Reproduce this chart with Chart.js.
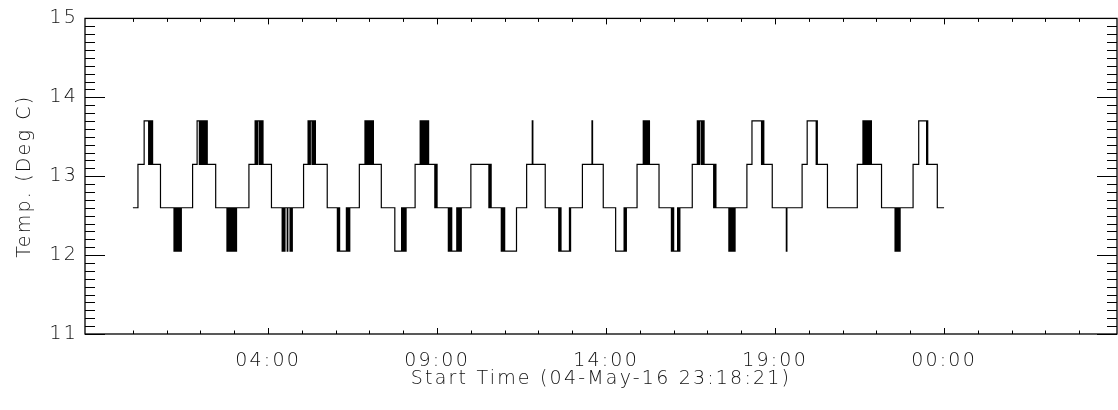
<!DOCTYPE html>
<html>
<head>
<meta charset="utf-8">
<script src="https://cdn.jsdelivr.net/npm/chart.js@4"></script>
<style>
  body { margin: 0; background: #fff; }
  #wrap { width: 1118px; height: 410px; }
</style>
</head>
<body>
<div id="wrap"><canvas id="tempChart"></canvas></div>
<script>
// minutes after 00:00 (05-May) where the reading changes, and the new reading (deg C)
const timeMin = [
  0, 9, 20, 28, 29, 30, 31, 32, 33, 35, 49, 73, 74, 75, 76, 77, 78, 79, 80, 81, 82, 83, 84, 85, 86,
  106, 114, 118, 119, 120, 121, 122, 123, 124, 125, 126, 127, 128, 129, 130, 131, 132, 147, 167, 168, 169, 170, 171, 172, 173, 174, 175, 176, 177, 178, 179, 180, 181, 182, 183, 184,
  206, 217, 219, 220, 221, 222, 225, 226, 228, 229, 231, 246, 265, 266, 267, 268, 269, 270, 274, 275, 279, 280, 281, 283,
  303, 311, 312, 313, 314, 315, 318, 319, 320, 321, 322, 323, 324, 345, 363, 364, 365, 366, 367, 379, 380, 381, 382, 383, 384, 385,
  402, 412, 413, 414, 415, 416, 417, 418, 419, 420, 421, 422, 423, 424, 425, 426, 427, 441, 465, 477, 478, 479, 480, 481, 482, 483, 484, 485,
  501, 510, 511, 512, 513, 514, 515, 516, 517, 518, 519, 520, 521, 522, 523, 524, 525, 536, 537, 538, 539, 540, 560, 561, 562, 563, 564, 565, 566, 575, 576, 578, 579, 581, 582, 583,
  600, 632, 633, 634, 635, 636, 654, 655, 656, 657, 658, 659, 660, 681,
  699, 709, 710, 732, 756, 757, 758, 759, 760, 775, 776, 777,
  798, 815, 816, 835, 857, 872, 873, 874, 875, 876,
  895, 906, 907, 908, 909, 910, 911, 912, 913, 914, 915, 916, 917, 934, 956, 957, 958, 959, 960, 967, 968, 969, 970, 971,
  993, 1002, 1003, 1004, 1005, 1006, 1009, 1010, 1011, 1012, 1014, 1031, 1032, 1033, 1034, 1035, 1058, 1059, 1060, 1061, 1062, 1063, 1064, 1065, 1066, 1067, 1068, 1069,
  1090, 1099, 1116, 1117, 1118, 1119, 1120, 1135, 1160, 1161,
  1188, 1197, 1213, 1214, 1215, 1233,
  1286, 1296, 1297, 1298, 1299, 1300, 1301, 1302, 1303, 1304, 1305, 1306, 1307, 1308, 1309, 1310, 1311, 1329, 1353, 1354, 1355, 1356, 1357, 1358, 1359, 1360, 1361, 1362,
  1385, 1395, 1409, 1410, 1411, 1428, 1440
];
const tempC = [
  12.6, 13.15, 13.7, 13.15, 13.7, 13.15, 13.7, 13.15, 13.7, 13.15, 12.6, 12.05, 12.6, 12.05, 12.6, 12.05, 12.6, 12.05, 12.6, 12.05, 12.6, 12.05, 12.6, 12.05, 12.6,
  13.15, 13.7, 13.15, 13.7, 13.15, 13.7, 13.15, 13.7, 13.15, 13.7, 13.15, 13.7, 13.15, 13.7, 13.15, 13.7, 13.15, 12.6, 12.05, 12.6, 12.05, 12.6, 12.05, 12.6, 12.05, 12.6, 12.05, 12.6, 12.05, 12.6, 12.05, 12.6, 12.05, 12.6, 12.05, 12.6,
  13.15, 13.7, 13.15, 13.7, 13.15, 13.7, 13.15, 13.7, 13.15, 13.7, 13.15, 12.6, 12.05, 12.6, 12.05, 12.6, 12.05, 12.6, 12.05, 12.6, 12.05, 12.6, 12.05, 12.6,
  13.15, 13.7, 13.15, 13.7, 13.15, 13.7, 13.15, 13.7, 13.15, 13.7, 13.15, 13.7, 13.15, 12.6, 12.05, 12.6, 12.05, 12.6, 12.05, 12.6, 12.05, 12.6, 12.05, 12.6, 12.05, 12.6,
  13.15, 13.7, 13.15, 13.7, 13.15, 13.7, 13.15, 13.7, 13.15, 13.7, 13.15, 13.7, 13.15, 13.7, 13.15, 13.7, 13.15, 12.6, 12.05, 12.6, 12.05, 12.6, 12.05, 12.6, 12.05, 12.6, 12.05, 12.6,
  13.15, 13.7, 13.15, 13.7, 13.15, 13.7, 13.15, 13.7, 13.15, 13.7, 13.15, 13.7, 13.15, 13.7, 13.15, 13.7, 13.15, 12.6, 13.15, 12.6, 13.15, 12.6, 12.05, 12.6, 12.05, 12.6, 12.05, 12.6, 12.05, 12.6, 12.05, 12.6, 12.05, 12.6, 12.05, 12.6,
  13.15, 12.6, 13.15, 12.6, 13.15, 12.6, 12.05, 12.6, 12.05, 12.6, 12.05, 12.6, 12.05, 12.6,
  13.15, 13.7, 13.15, 12.6, 12.05, 12.6, 12.05, 12.6, 12.05, 12.6, 12.05, 12.6,
  13.15, 13.7, 13.15, 12.6, 12.05, 12.6, 12.05, 12.6, 12.05, 12.6,
  13.15, 13.7, 13.15, 13.7, 13.15, 13.7, 13.15, 13.7, 13.15, 13.7, 13.15, 13.7, 13.15, 12.6, 12.05, 12.6, 12.05, 12.6, 12.05, 12.6, 12.05, 12.6, 12.05, 12.6,
  13.15, 13.7, 13.15, 13.7, 13.15, 13.7, 13.15, 13.7, 13.15, 13.7, 13.15, 12.6, 13.15, 12.6, 13.15, 12.6, 12.05, 12.6, 12.05, 12.6, 12.05, 12.6, 12.05, 12.6, 12.05, 12.6, 12.05, 12.6,
  13.15, 13.7, 13.15, 13.7, 13.15, 13.7, 13.15, 12.6, 12.05, 12.6,
  13.15, 13.7, 13.15, 13.7, 13.15, 12.6,
  13.15, 13.7, 13.15, 13.7, 13.15, 13.7, 13.15, 13.7, 13.15, 13.7, 13.15, 13.7, 13.15, 13.7, 13.15, 13.7, 13.15, 12.6, 12.05, 12.6, 12.05, 12.6, 12.05, 12.6, 12.05, 12.6, 12.05, 12.6,
  13.15, 13.7, 13.15, 13.7, 13.15, 12.6, 12.6
];

// axis ticks
const xTickMinutes = [240, 540, 840, 1140, 1440];
const xTickLabels = ['04:00', '09:00', '14:00', '19:00', '00:00'];
const yTicks = [11, 12, 13, 14, 15];

const points = timeMin.map((t, i) => ({ x: t, y: tempC[i] }));

const textFont = { family: "'DejaVu Sans', sans-serif", size: 19, weight: '200' };
const textColor = '#111';

// IDL-like box with inward ticks on all four sides
const frameTicks = {
    id: 'frameTicks',
    afterDraw(chart) {
        const { ctx, chartArea: a, scales: { x, y } } = chart;
        ctx.save();
        ctx.letterSpacing = '0px';
        ctx.strokeStyle = '#000';
        ctx.lineWidth = 1;
        ctx.beginPath();
        for (let i = 110; i <= 150; i++) {
            const py = Math.round(y.getPixelForValue(i / 10)) + 0.5;
            const len = i % 10 === 0 ? 20 : 10;
            ctx.moveTo(a.left, py); ctx.lineTo(a.left + len, py);
            ctx.moveTo(a.right, py); ctx.lineTo(a.right - len, py);
        }
        for (let h = 0; h <= 28; h++) {
            const px = Math.round(x.getPixelForValue(h * 60)) + 0.5;
            const len = (h - 4) % 5 === 0 ? 6 : 3.5;
            ctx.moveTo(px, a.bottom); ctx.lineTo(px, a.bottom - len);
            ctx.moveTo(px, a.top); ctx.lineTo(px, a.top + len);
        }
        ctx.stroke();
        ctx.lineWidth = 1.3;
        ctx.strokeRect(a.left, a.top, a.right - a.left, a.bottom - a.top);
        ctx.restore();
    }
};

// the reference font is wide, so spread the letters a bit
const spacing = {
    id: 'spacing',
    beforeDraw(chart) { chart.ctx.letterSpacing = '2.2px'; }
};

const ctx = document.getElementById('tempChart').getContext('2d');

new Chart(ctx, {
    type: 'line',
    data: {
        datasets: [{
            data: points,
            borderColor: '#000',
            borderWidth: 1.2,
            stepped: true,
            pointRadius: 0,
            fill: false
        }]
    },
    options: {
        responsive: true,
        maintainAspectRatio: false,
        animation: false,
        events: [],
        layout: { padding: { top: 9, right: 1, left: 0, bottom: 0 } },
        plugins: {
            legend: { display: false },
            tooltip: { enabled: false }
        },
        scales: {
            x: {
                type: 'linear',
                min: -85,
                max: 1747,
                grid: { display: false, drawTicks: false },
                border: { display: false },
                afterBuildTicks: scale => { scale.ticks = xTickMinutes.map(v => ({ value: v })); },
                afterFit: scale => { scale.height = 76; },
                ticks: {
                    autoSkip: false,
                    maxRotation: 0,
                    padding: 16,
                    color: textColor,
                    font: textFont,
                    callback: (v, i) => xTickLabels[i]
                },
                title: {
                    display: true,
                    text: 'Start Time (04-May-16 23:18:21)',
                    color: textColor,
                    font: textFont,
                    padding: { top: 0, bottom: 20 }
                }
            },
            y: {
                min: 11,
                max: 15,
                grid: { display: false, drawTicks: false },
                border: { display: false },
                afterBuildTicks: scale => { scale.ticks = yTicks.map(v => ({ value: v })); },
                afterFit: scale => { scale.width = 85; },
                ticks: {
                    padding: 7,
                    color: textColor,
                    font: textFont,
                    callback: v => v
                },
                title: {
                    display: true,
                    text: 'Temp. (Deg C)',
                    color: textColor,
                    font: textFont,
                    padding: { top: 14, bottom: 0 }
                }
            }
        }
    },
    plugins: [frameTicks, spacing]
});
</script>
</body>
</html>
